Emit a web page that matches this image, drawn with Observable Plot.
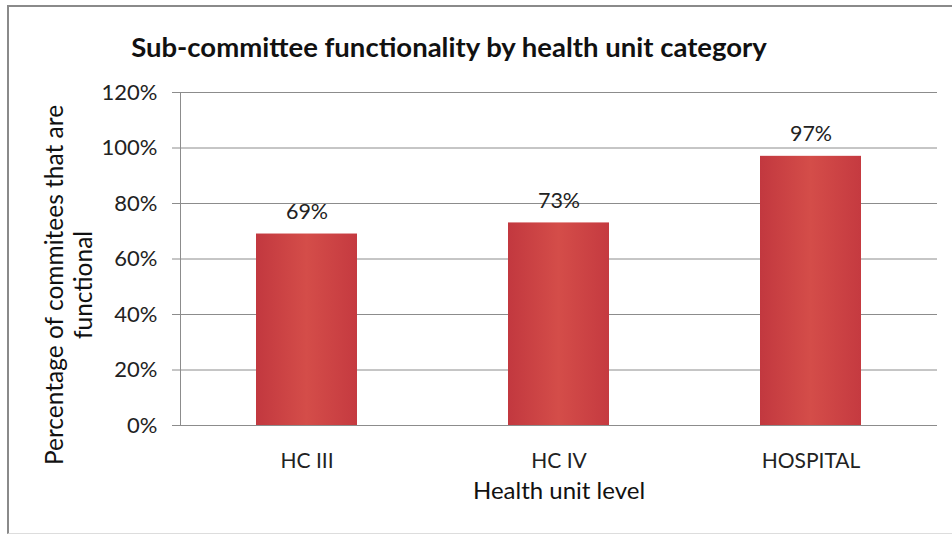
<!DOCTYPE html>
<html>
<head>
<meta charset="utf-8">
<script src="https://cdn.jsdelivr.net/npm/d3@7"></script>
<script src="https://cdn.jsdelivr.net/npm/@observablehq/plot@0.6"></script>
<style>
  html, body { margin: 0; padding: 0; background: #fff; }
  #wrap { position: relative; width: 952px; height: 538px; overflow: hidden; }
  #border { position: absolute; left: 7px; top: 5px; width: 960px; height: 529px;
            border-left: 2px solid #8a8a8a; border-top: 2px solid #8a8a8a; border-bottom: 1px solid #ddd; box-sizing: border-box; }
</style>
</head>
<body>
<div id="wrap"><div id="border"></div></div>
<script>
const categories = ["HC III", "HC IV", "HOSPITAL"];
const values = [0.69, 0.73, 0.97];
const valueLabels = ["69%", "73%", "97%"];
const yTicks = [0, 0.2, 0.4, 0.6, 0.8, 1.0, 1.2];
const title = "Sub-committee functionality by health unit category";
const yLabel = "Percentage of commitees that are\nfunctional";
const xLabel = "Health unit level";

const data = categories.map((c, i) => ({cat: c, value: values[i], label: valueLabels[i]}));
const FONT = "Lato, 'Open Sans', sans-serif";

const defs = () => {
  const ns = "http://www.w3.org/2000/svg";
  const g = document.createElementNS(ns, "defs");
  g.innerHTML = `<linearGradient id="barGrad" x1="0" x2="1" y1="0" y2="0">
      <stop offset="0" stop-color="#c2383f"/>
      <stop offset="0.5" stop-color="#d44d49"/>
      <stop offset="1" stop-color="#c53a40"/>
    </linearGradient>`;
  return g;
};

const chart = Plot.plot({
  width: 952,
  height: 538,
  marginLeft: 180,
  marginRight: 15,
  marginTop: 92,
  marginBottom: 113,
  style: {fontFamily: FONT, background: "transparent", color: "#222"},
  x: {domain: categories, paddingInner: 0.6, paddingOuter: 0.3, label: null},
  y: {domain: [0, 1.2], label: null},
  marks: [
    defs,
    Plot.gridY(yTicks, {stroke: "#8c8c8c", strokeOpacity: 1}),
    Plot.axisY({ticks: yTicks, tickFormat: d => Math.round(d * 100) + "%", tickSize: 8, tickPadding: 15,
                fontSize: 22, stroke: "#8c8c8c", label: null}),
    Plot.barY(data, {x: "cat", y: "value", fill: "url(#barGrad)"}),
    Plot.ruleY([0], {stroke: "#8c8c8c"}),
    Plot.frame({anchor: "left", stroke: "#8c8c8c"}),
    Plot.axisX({tickSize: 0, tickPadding: 28, fontSize: 21, label: null}),
    Plot.text(data, {x: "cat", y: "value", text: "label", dy: -22, fontSize: 21.5, fill: "#222"}),
    Plot.text([title], {frameAnchor: "top", dx: -110, dy: -55, fontSize: 27.5, fontWeight: "bold", fill: "#111"}),
    Plot.text([yLabel], {frameAnchor: "left", textAnchor: "middle", rotate: -90, dx: -112, dy: 26, fontSize: 24.5, fill: "#111", lineHeight: 1.18}),
    Plot.text([xLabel], {frameAnchor: "bottom", dy: 73, fontSize: 24, fill: "#111"})
  ]
});
document.getElementById("wrap").appendChild(chart);
chart.style.position = "absolute";
chart.style.left = "0";
chart.style.top = "0";
</script>
</body>
</html>
